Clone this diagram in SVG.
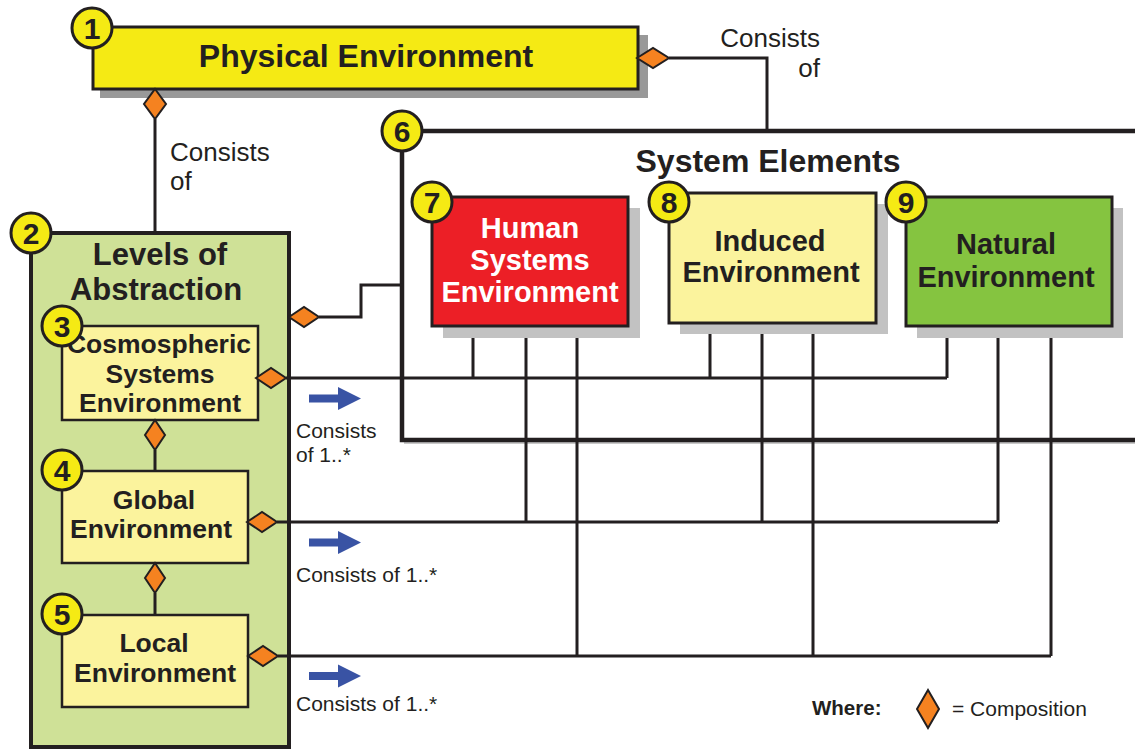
<svg xmlns="http://www.w3.org/2000/svg" xmlns:xlink="http://www.w3.org/1999/xlink" width="1135" height="749" viewBox="0 0 1135 749">
  <style>
    .t { font-family: "Liberation Sans", Arial, sans-serif; fill: #231f20; }
    .b { font-weight: bold; }
    .box { stroke: #231f20; stroke-width: 3; }
    .shadow { fill: #c2c2c2; }
    .conn { fill: none; stroke: #231f20; stroke-width: 3; }
    .frame { fill: none; stroke: #231f20; stroke-width: 4.5; }
    .dia { fill: #f58220; stroke: #231f20; stroke-width: 2; stroke-linejoin: miter; }
    .badge circle { fill: #f5ea14; stroke: #231f20; stroke-width: 3; }
    .badge text { font-family: "Liberation Sans", Arial, sans-serif; font-weight: bold; font-size: 30px; fill: #231f20; text-anchor: middle; }
    .lbl { font-size: 26px; }
    .small { font-size: 21px; }
    .mid { text-anchor: middle; }
    .white { fill: #ffffff; }
  </style>
  <defs>
    <polygon id="blueArrow" points="0,-4 29,-4 29,-11.5 52,0 29,11.5 29,4 0,4" fill="#3953a4"/>
  </defs>

  <rect width="1135" height="749" fill="#ffffff"/>

  <!-- System Elements frame -->
  <g id="n6">
    <path d="M1135,443 H404" stroke="#c8c8c8" stroke-width="2" fill="none"/>
    <path class="frame" d="M1135,131 H402 V440 H1135"/>
    <text class="t b mid" x="768" y="172" font-size="32">System Elements</text>
  </g>

  <!-- 1: Physical Environment -->
  <g id="n1">
    <rect x="100" y="35" width="548" height="63" fill="#999999"/>
    <rect class="box" x="93" y="27" width="545" height="62" fill="#f5ea14"/>
    <text class="t b mid" x="366" y="67" font-size="32">Physical Environment</text>
    <polygon class="dia" points="155,89 166,104 155,119 144,104"/>
    <polygon class="dia" points="637,58 653,48 669,58 653,68"/>
    <g class="badge"><circle cx="92" cy="28" r="20"/><text x="92" y="39">1</text></g>
  </g>

  <!-- 2: Levels of Abstraction -->
  <g id="n2">
    <rect x="31" y="233" width="258" height="514" fill="#cfe197" stroke="#231f20" stroke-width="4"/>
    <text class="t b mid" x="160" y="265" font-size="31">Levels of</text>
    <text class="t b mid" x="156" y="300" font-size="31">Abstraction</text>
    <polygon class="dia" points="289,317 304,307 319,317 304,327"/>
    <g class="badge"><circle cx="31" cy="233" r="20"/><text x="31" y="244">2</text></g>
  </g>

  <!-- Connectors -->
  <g id="connectors">
    <path class="conn" d="M155,119 V233"/>
    <path class="conn" d="M669,58 H767 V131"/>
    <path class="conn" d="M319,317 H361 V285 H402"/>
    <path class="conn" d="M155,450 V471"/>
    <path class="conn" d="M155,593 V615"/>
    <!-- cosmospheric level -->
    <path class="conn" d="M286,378 H947"/>
    <path class="conn" d="M473,326 V378 M710,323 V378 M947,326 V378"/>
    <!-- global level -->
    <path class="conn" d="M277,522 H998"/>
    <path class="conn" d="M526,326 V522 M762,323 V522 M998,326 V522"/>
    <!-- local level -->
    <path class="conn" d="M278,656 H1051"/>
    <path class="conn" d="M577,326 V656 M813,323 V656 M1051,326 V656"/>
  </g>

  <!-- 3: Cosmospheric Systems Environment -->
  <g id="n3">
    <rect x="62" y="326" width="196" height="94" fill="#fbf39d" stroke="#231f20" stroke-width="2.5"/>
    <text class="t b mid" x="159" y="353" font-size="26.5">Cosmospheric</text>
    <text class="t b mid" x="160" y="383" font-size="26.5">Systems</text>
    <text class="t b mid" x="160" y="412" font-size="26.5">Environment</text>
    <polygon class="dia" points="256,378 271,368 286,378 271,388"/>
    <polygon class="dia" points="155,420 165,435 155,450 145,435"/>
    <g class="badge"><circle cx="62" cy="326" r="20"/><text x="62" y="337">3</text></g>
  </g>

  <!-- 4: Global Environment -->
  <g id="n4">
    <rect x="62" y="471" width="186" height="92" fill="#fbf39d" stroke="#231f20" stroke-width="2.5"/>
    <text class="t b mid" x="154" y="509" font-size="26.5">Global</text>
    <text class="t b mid" x="151" y="538" font-size="26.5">Environment</text>
    <polygon class="dia" points="247,522 262,512 277,522 262,532"/>
    <polygon class="dia" points="155,563 165,578 155,593 145,578"/>
    <g class="badge"><circle cx="62" cy="470" r="20"/><text x="62" y="481">4</text></g>
  </g>

  <!-- 5: Local Environment -->
  <g id="n5">
    <rect x="62" y="615" width="186" height="92" fill="#fbf39d" stroke="#231f20" stroke-width="2.5"/>
    <text class="t b mid" x="154" y="652" font-size="26.5">Local</text>
    <text class="t b mid" x="155" y="682" font-size="26.5">Environment</text>
    <polygon class="dia" points="248,656 263,646 278,656 263,666"/>
    <g class="badge"><circle cx="62" cy="614" r="20"/><text x="62" y="625">5</text></g>
  </g>

  <g id="badge6" class="badge"><circle cx="402" cy="131" r="20"/><text x="402" y="142">6</text></g>

  <!-- 7: Human Systems Environment -->
  <g id="n7">
    <rect class="shadow" x="443" y="208" width="197" height="130"/>
    <rect class="box" x="432" y="197" width="196" height="129" fill="#ec1f26"/>
    <text class="t b mid white" x="530" y="238" font-size="29">Human</text>
    <text class="t b mid white" x="530" y="270" font-size="29">Systems</text>
    <text class="t b mid white" x="530" y="302" font-size="29">Environment</text>
    <g class="badge"><circle cx="432" cy="202" r="20"/><text x="432" y="213">7</text></g>
  </g>

  <!-- 8: Induced Environment -->
  <g id="n8">
    <rect class="shadow" x="680" y="204" width="208" height="130"/>
    <rect class="box" x="669" y="193" width="207" height="130" fill="#fbf39d"/>
    <text class="t b mid" x="770" y="251" font-size="29">Induced</text>
    <text class="t b mid" x="771" y="282" font-size="29">Environment</text>
    <g class="badge"><circle cx="669" cy="202" r="20"/><text x="669" y="213">8</text></g>
  </g>

  <!-- 9: Natural Environment -->
  <g id="n9">
    <rect class="shadow" x="917" y="208" width="206" height="130"/>
    <rect class="box" x="906" y="197" width="206" height="129" fill="#85c440"/>
    <text class="t b mid" x="1006" y="254" font-size="29">Natural</text>
    <text class="t b mid" x="1006" y="287" font-size="29">Environment</text>
    <g class="badge"><circle cx="906" cy="202" r="20"/><text x="906" y="213">9</text></g>
  </g>

  <!-- Relationship labels -->
  <g id="labels">
    <text class="t lbl" x="820" y="47" text-anchor="end">Consists</text>
    <text class="t lbl" x="820" y="77" text-anchor="end">of</text>
    <text class="t lbl" x="170" y="161">Consists</text>
    <text class="t lbl" x="170" y="190">of</text>
    <use xlink:href="#blueArrow" transform="translate(309,398.5)"/>
    <text class="t small" x="296" y="438">Consists</text>
    <text class="t small" x="296" y="462">of 1..*</text>
    <use xlink:href="#blueArrow" transform="translate(309,542.5)"/>
    <text class="t small" x="296" y="582">Consists of 1..*</text>
    <use xlink:href="#blueArrow" transform="translate(309,676)"/>
    <text class="t small" x="296" y="711">Consists of 1..*</text>
  </g>

  <!-- Legend -->
  <g id="legend">
    <text class="t b" x="812" y="715" font-size="20.5">Where:</text>
    <polygon class="dia" points="928,690 939,709 928,728 917,709"/>
    <text class="t small" x="952" y="716">= Composition</text>
  </g>
</svg>
